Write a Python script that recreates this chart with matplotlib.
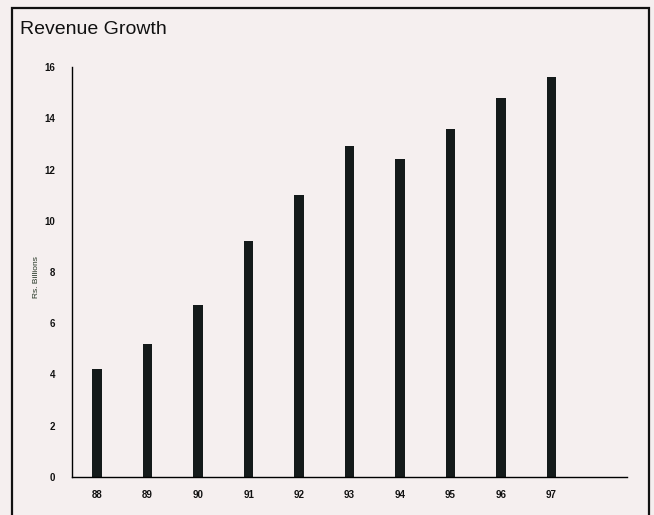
import matplotlib.pyplot as plt
from matplotlib.patches import Rectangle

# Revenue by year (Rs. Billions)
years = ['88', '89', '90', '91', '92', '93', '94', '95', '96', '97']
revenue = [4.2, 5.2, 6.7, 9.2, 11.0, 12.9, 12.4, 13.6, 14.8, 15.6]
y_ticks = [0, 2, 4, 6, 8, 10, 12, 14, 16]

bg = '#f5efef'
plt.rcParams['font.family'] = ['Liberation Sans', 'DejaVu Sans']

fig = plt.figure(figsize=(6.54, 5.15), dpi=100, facecolor=bg)

# outer frame of the printed figure (bottom edge runs off the page)
fig.patches.append(Rectangle((12 / 654, -0.05), (649 - 12) / 654, 1.05 - 8 / 515,
                             transform=fig.transFigure, fill=False,
                             edgecolor='#111111', linewidth=1.6))

fig.text(20 / 654, 1 - 29 / 515, 'Revenue Growth', fontsize=14,
         ha='left', va='center', color='#111111')

ax = fig.add_axes([72 / 654, 1 - 477 / 515, (627 - 72) / 654, (477 - 67) / 515])
ax.set_facecolor(bg)

x = list(range(len(years)))
ax.bar(x, revenue, width=0.19, color='#141a1a')

ax.set_xlim(-0.5, len(years) + 0.5)
ax.set_ylim(0, 16)
ax.set_xticks(x)
ax.set_xticklabels(years)
ax.set_yticks(y_ticks)
ax.tick_params(length=0, labelsize=7, colors='#111111')
ax.tick_params(axis='y', pad=12)
ax.tick_params(axis='x', pad=9)
for lab in ax.get_xticklabels() + ax.get_yticklabels():
    lab.set_fontweight('bold')

ax.spines['top'].set_visible(False)
ax.spines['right'].set_visible(False)
ax.spines['left'].set_linewidth(1.0)
ax.spines['bottom'].set_linewidth(1.0)

fig.text(37 / 654, 1 - 277 / 515, 'Rs. Billions', rotation=90, fontsize=6,
         ha='center', va='center', color='#223322')

fig.savefig('out.png', dpi=100, facecolor=bg)
